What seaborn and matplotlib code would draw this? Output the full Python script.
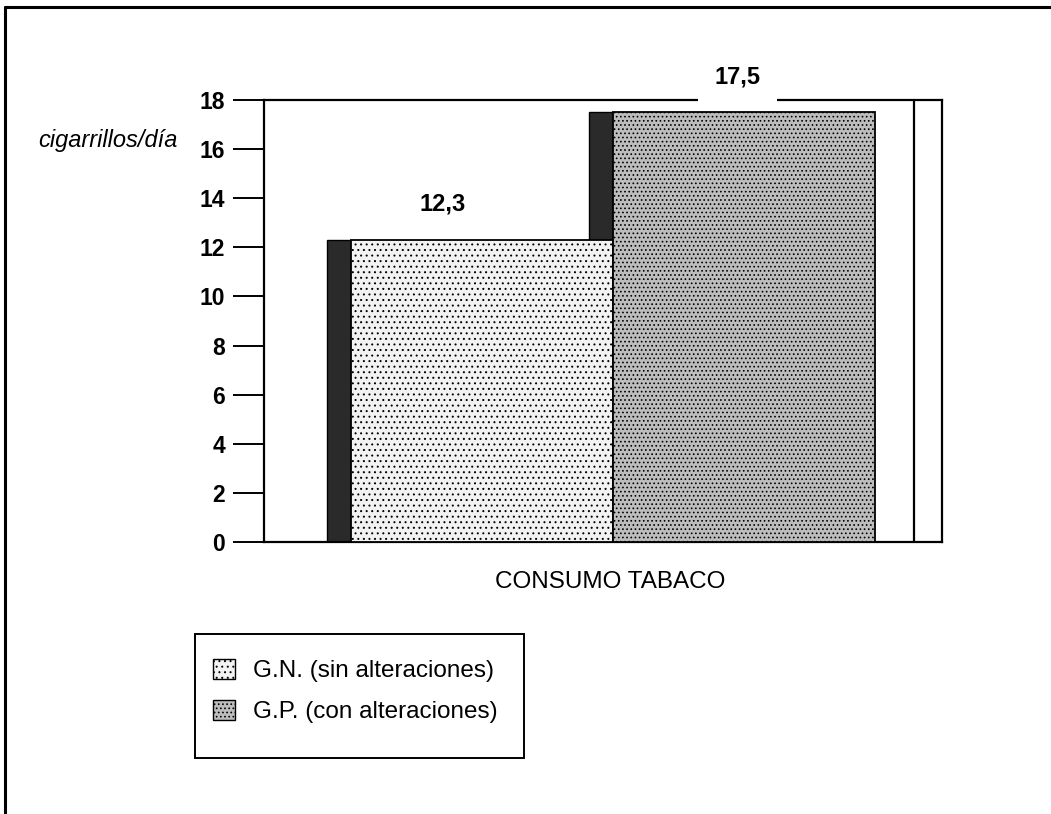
import matplotlib
matplotlib.use("Agg")
import matplotlib.pyplot as plt
import matplotlib.patches as mpatches
from matplotlib.lines import Line2D
import seaborn as sns
import pandas as pd

# ---- data ----
categoria = ["CONSUMO TABACO", "CONSUMO TABACO"]
grupos = ["G.N. (sin alteraciones)", "G.P. (con alteraciones)"]
valores = [12.3, 17.5]
etiquetas = ["12,3", "17,5"]
yticks = [0, 2, 4, 6, 8, 10, 12, 14, 16, 18]
ylabel = "cigarrillos/día"
xlabel = "CONSUMO TABACO"

df = pd.DataFrame({"cat": categoria, "grupo": grupos, "valor": valores})

sns.set_theme(style="white")
plt.rcParams["font.family"] = ["Liberation Sans", "DejaVu Sans"]
plt.rcParams["hatch.linewidth"] = 0.7
plt.rcParams["text.color"] = "black"

W, H = 1051, 814
fig = plt.figure(figsize=(W / 100, H / 100), dpi=100)
ax = fig.add_axes([264 / W, 1 - 542 / H, (942 - 264) / W, (542 - 100) / H])

face_colors = ["#f2f2f2", "#bdbdbd"]
hatches = ["...", "...."]
sns.barplot(data=df, x="cat", y="valor", hue="grupo", hue_order=grupos,
            palette=face_colors, ax=ax, legend=False, width=0.8,
            saturation=1, errorbar=None)

bars = [p for p in ax.patches if isinstance(p, mpatches.Rectangle)]
depth = 0.0366
for p, h in zip(bars, hatches):
    p.set_hatch(h)
    p.set_edgecolor("black")
    p.set_linewidth(1.3)
    p.set_zorder(3)
    side = mpatches.Rectangle((p.get_x() - depth, 0), depth, p.get_height(),
                              facecolor="#2a2a2a", edgecolor="black",
                              linewidth=1.0, zorder=2)
    ax.add_patch(side)

label_dx = [-0.06, -0.01]
for p, lab, dx in zip(bars, etiquetas, label_dx):
    ax.text(p.get_x() + p.get_width() / 2 + dx, p.get_height() + 1.45, lab,
            ha="center", va="center", fontsize=17, fontweight="bold",
            color="black", zorder=5,
            bbox=dict(facecolor="white", edgecolor="none", pad=12))

ax.set_xlim(-0.533, 0.502)
ax.set_ylim(0, 18)
ax.set_yticks(yticks)
ax.set_yticklabels([str(t) for t in yticks], fontsize=16.5, fontweight="bold")
ax.set_xticks([])
ax.set_xlabel("")
ax.set_ylabel("")
ax.tick_params(axis="y", direction="out", length=22, width=1.4, pad=6,
               colors="black", left=True)
for s in ax.spines.values():
    s.set_visible(True)
    s.set_color("black")
    s.set_linewidth(1.6)
ax.set_facecolor("white")

# inner right frame line
ax.plot([(914 - 264) / (942 - 264)] * 2, [0, 1], transform=ax.transAxes,
        color="black", lw=1.6, clip_on=False, zorder=4)

fig.text(178 / W, 1 - 141 / H, ylabel, ha="right", va="center",
         fontsize=17, style="italic", color="black")
fig.text(610 / W, 1 - 582 / H, xlabel, ha="center", va="center",
         fontsize=17.5, color="black")

# legend (entries without frame, box drawn separately)
handles = [mpatches.Patch(facecolor=c, edgecolor="black", hatch=h, linewidth=1.0)
           for c, h in zip(face_colors, hatches)]
leg = fig.legend(handles, grupos, loc="center left",
                 bbox_to_anchor=(213 / W, 1 - 691 / H), frameon=False,
                 fontsize=17.5, handlelength=0.9,
                 handleheight=0.9, handletextpad=0.75, labelspacing=0.72,
                 borderpad=0, borderaxespad=0, labelcolor="black")
fig.add_artist(mpatches.Rectangle((195 / W, 1 - 758 / H), (524 - 195) / W,
                                  (758 - 634) / H, transform=fig.transFigure,
                                  fill=False, edgecolor="black", linewidth=1.4))

# outer page frame
fig.add_artist(Line2D([5 / W, 5 / W], [0, 1 - 7 / H], transform=fig.transFigure,
                      color="black", lw=2.2))
fig.add_artist(Line2D([5 / W, 1], [1 - 7 / H, 1 - 7 / H], transform=fig.transFigure,
                      color="black", lw=2.2))

fig.savefig("out.png", dpi=100, facecolor="white")
